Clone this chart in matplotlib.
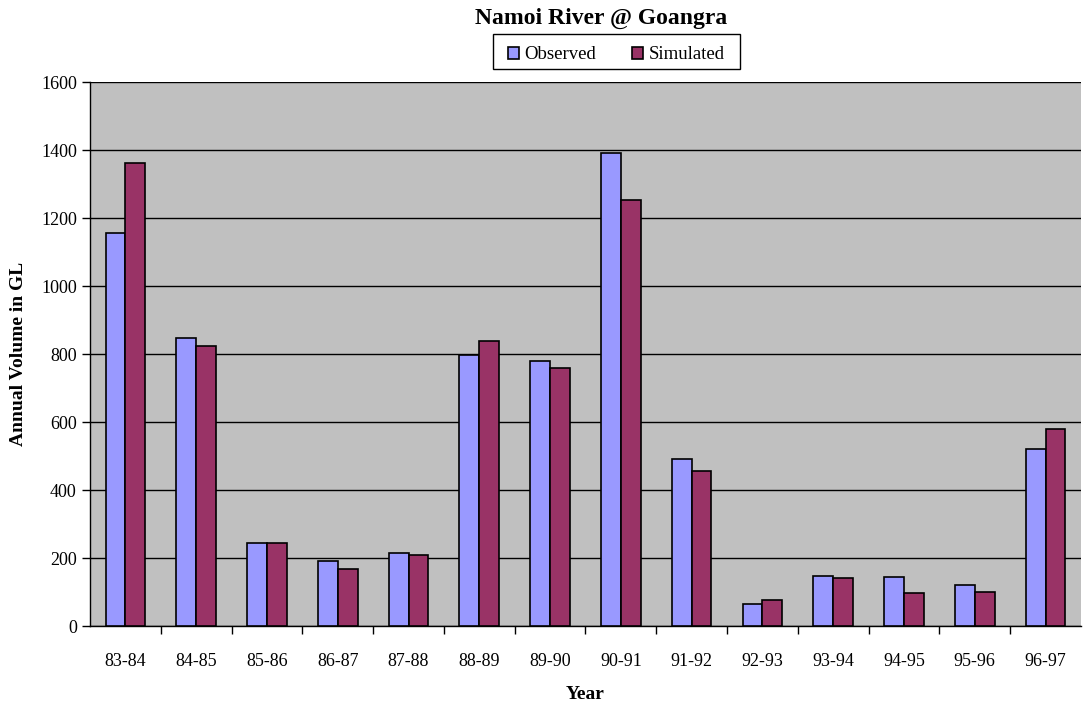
import numpy as np
import matplotlib.pyplot as plt
from matplotlib.patches import Rectangle

plt.rcParams['font.family'] = ['Liberation Serif', 'DejaVu Serif']

years = ["83-84", "84-85", "85-86", "86-87", "87-88", "88-89", "89-90",
         "90-91", "91-92", "92-93", "93-94", "94-95", "95-96", "96-97"]
observed = [1157, 847, 246, 191, 216, 798, 781, 1392, 492, 66, 148, 145, 121, 521]
simulated = [1363, 824, 244, 168, 211, 839, 760, 1254, 457, 77, 142, 99, 101, 581]

fig = plt.figure(figsize=(10.83, 7.06), dpi=100)
ax = fig.add_axes([0.0831, 0.1129, 0.915, 0.7705])
ax.set_facecolor('#C0C0C0')

x = np.arange(len(years))
w = 0.28
ax.bar(x - w / 2, observed, w, color='#9999FF', edgecolor='black', linewidth=1.2,
       label='Observed', zorder=3)
ax.bar(x + w / 2, simulated, w, color='#993366', edgecolor='black', linewidth=1.2,
       label='Simulated', zorder=3)

ax.set_xlim(-0.5, len(years) - 0.5)
ax.set_ylim(0, 1600)
ax.set_yticks(np.arange(0, 1601, 200))
ax.yaxis.grid(True, color='black', linewidth=1, zorder=1)
ax.set_axisbelow(True)

# category labels in the middle, tick marks on the boundaries
ax.set_xticks(x)
ax.set_xticklabels(years, fontsize=13)
ax.tick_params(axis='x', length=0, pad=19)
ax.set_xticks(np.arange(0.5, len(years) - 1, 1), minor=True)
ax.tick_params(axis='x', which='minor', length=6, width=1, direction='out')
ax.tick_params(axis='y', labelsize=13, length=6, width=1, direction='out')

for side in ['top', 'right']:
    ax.spines[side].set_visible(False)
ax.spines['left'].set_linewidth(1)
ax.spines['bottom'].set_linewidth(1)

ax.set_xlabel('Year', fontsize=14, fontweight='bold', labelpad=12)
ax.set_ylabel('Annual Volume in GL', fontsize=14, fontweight='bold', labelpad=10)

fig.text(0.5554, 0.9745, 'Namoi River @ Goangra', ha='center', va='center',
         fontsize=17, fontweight='bold')

# legend box drawn separately so the padding can be wider than it is tall
fig.patches.append(Rectangle((0.4552, 0.9023), 0.228, 0.0496, transform=fig.transFigure,
                             facecolor='white', edgecolor='black', linewidth=1))
leg = fig.legend(loc='center', bbox_to_anchor=(0.569, 0.9225), ncol=2, fontsize=13.5,
                 frameon=False, handlelength=0.6, handleheight=0.6, handletextpad=0.3,
                 columnspacing=1.9, borderpad=0)

fig.savefig('out.png', dpi=100)
